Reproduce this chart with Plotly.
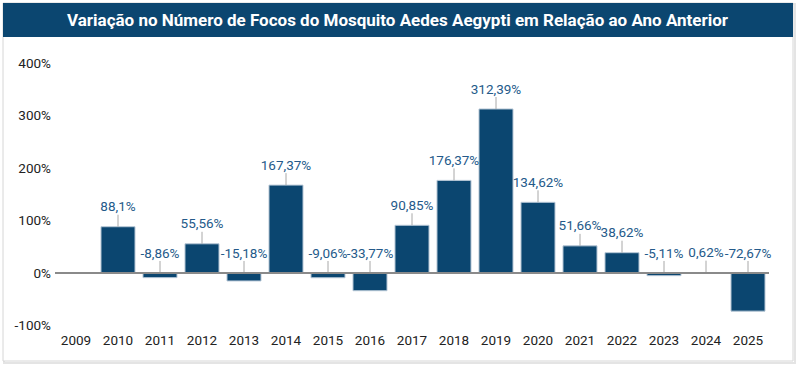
import plotly.graph_objects as go

years = [str(y) for y in range(2009, 2026)]
values = [None, 88.1, -8.86, 55.56, -15.18, 167.37, -9.06, -33.77, 90.85, 176.37,
          312.39, 134.62, 51.66, 38.62, -5.11, 0.62, -72.67]
labels = [None, "88,1%", "-8,86%", "55,56%", "-15,18%", "167,37%", "-9,06%", "-33,77%",
          "90,85%", "176,37%", "312,39%", "134,62%", "51,66%", "38,62%", "-5,11%",
          "0,62%", "-72,67%"]
tick_vals = [-100, 0, 100, 200, 300, 400]
tick_text = ["-100%", "0%", "100%", "200%", "300%", "400%"]
title = "Variação no Número de Focos do Mosquito Aedes Aegypti em Relação ao Ano Anterior"

W, H = 799, 365
L, R, T, B = 55, 30, 55, 35
PW, PH = W - L - R, H - T - B
Y0, Y1 = -108.6, 415.2
LEADER_PX = 12
leader_units = LEADER_PX * (Y1 - Y0) / PH

def px(x):
    return (x - L) / PW

def py(y):
    return 1 - (y - T) / PH

BAR = "#0b4670"

fig = go.Figure()
fig.add_trace(go.Bar(
    x=years, y=values,
    marker=dict(color=BAR, line=dict(color="#b7c7d6", width=1)),
    hoverinfo="skip",
))

lx, ly = [], []
tx, ty, tt = [], [], []
for yr, v, lab in zip(years, values, labels):
    if v is None:
        continue
    base = max(v, 0)
    lx += [yr, yr, None]
    ly += [base, base + leader_units, None]
    tx.append(yr)
    ty.append(base + leader_units)
    tt.append(lab)

fig.add_trace(go.Scatter(
    x=lx, y=ly, mode="lines", line=dict(color="#a8a8a8", width=1),
    hoverinfo="skip", cliponaxis=False,
))
fig.add_trace(go.Scatter(
    x=tx, y=ty, mode="text", text=tt, textposition="top center",
    textfont=dict(family="Roboto", size=13.5, color="#245a8a"),
    hoverinfo="skip", cliponaxis=False,
))

shapes = [
    dict(type="rect", xref="paper", yref="paper", x0=px(4), x1=px(795), y0=py(4), y1=py(363),
         line=dict(color="#e4e4e4", width=2), fillcolor="rgba(0,0,0,0)", layer="below"),
    dict(type="rect", xref="paper", yref="paper", x0=px(3), x1=px(793), y0=py(3), y1=py(361),
         line=dict(color="#d6d6d6", width=1), fillcolor="white", layer="below"),
    dict(type="rect", xref="paper", yref="paper", x0=px(3), x1=px(793), y0=py(3), y1=py(37),
         line=dict(width=0), fillcolor=BAR, layer="below"),
    dict(type="line", xref="paper", yref="y", x0=0, x1=1, y0=0, y1=0,
         line=dict(color="#8a8a8a", width=2), layer="above"),
]

fig.add_annotation(
    xref="paper", yref="paper", x=px(398), y=py(20), text="<b>" + title + "</b>",
    showarrow=False, font=dict(family="Roboto", size=17, color="white"),
    xanchor="center", yanchor="middle",
)

fig.update_layout(
    width=W, height=H,
    margin=dict(l=L, r=R, t=T, b=B),
    paper_bgcolor="white", plot_bgcolor="rgba(0,0,0,0)",
    bargap=0.19, showlegend=False, shapes=shapes, hovermode=False,
    font=dict(family="Roboto", size=13, color="#222222"),
    xaxis=dict(type="category", categoryorder="array", categoryarray=years,
               range=[-0.5, 16.5], showgrid=False, showline=False, ticks="",
               tickfont=dict(size=13.5, color="#222222"), fixedrange=True),
    yaxis=dict(range=[Y0, Y1], tickvals=tick_vals, ticktext=tick_text,
               showgrid=False, zeroline=False, showline=False, ticks="",
               ticklabelstandoff=3,
               tickfont=dict(size=13.5, color="#222222"), fixedrange=True),
)

fig.write_html("out.html", config={"displayModeBar": False},
               post_script="document.body.style.margin='0';")
